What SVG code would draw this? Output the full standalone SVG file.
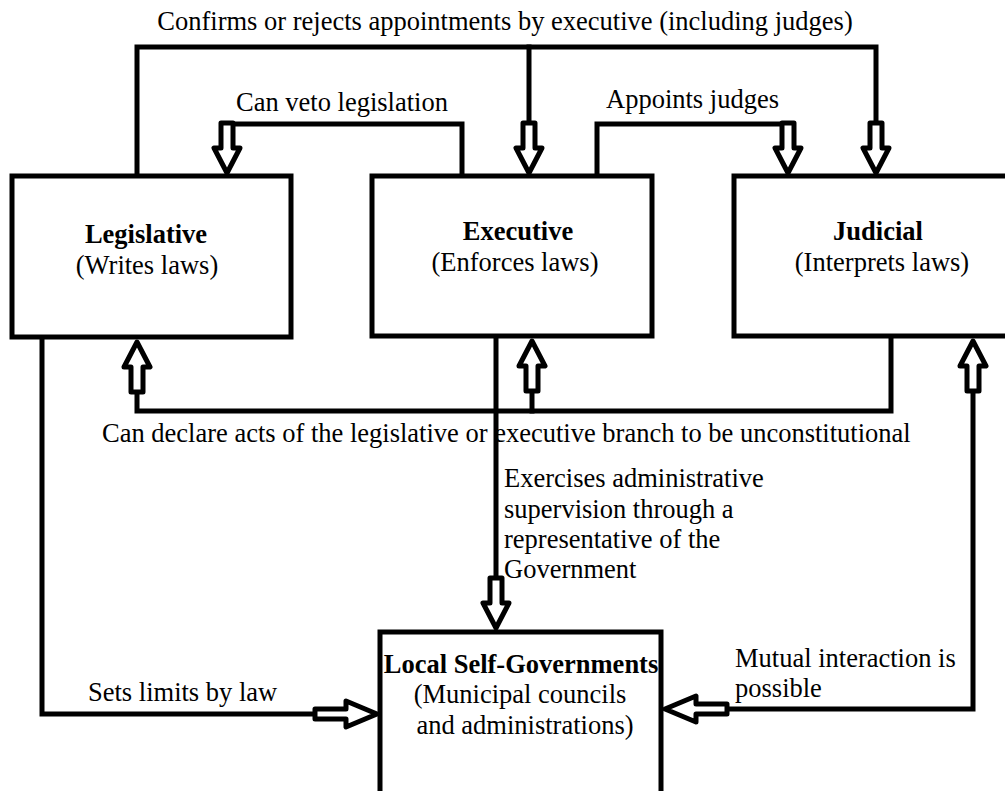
<svg xmlns="http://www.w3.org/2000/svg" width="1005" height="791" viewBox="0 0 1005 791">
<style>
.box{fill:#fff;stroke:#000;stroke-width:5}
.ln{fill:none;stroke:#000;stroke-width:5;stroke-linejoin:miter;stroke-linecap:square}
.ar{fill:#fff;stroke:#000;stroke-width:5;stroke-linejoin:round}
text{font-family:"Liberation Serif","Times New Roman",serif;font-size:26.5px;fill:#000}
.b{font-weight:bold}
.c{text-anchor:middle}
</style>
<defs>
<path id="av" d="M-6,-50 H6 V-25 H13 L0,0 L-13,-25 H-6 Z"/>
<path id="ah" d="M-62,-5 H-31 V-13 L0,0 L-31,13 V5 H-62 Z"/>
</defs>
<g id="legislative">
<rect class="box" x="12" y="176" width="279" height="161"/>
<text class="c b" x="146" y="243">Legislative</text>
<text class="c" x="147" y="274">(Writes laws)</text>
</g>
<g id="executive">
<rect class="box" x="372" y="176" width="280" height="160"/>
<text class="c b" x="518" y="240">Executive</text>
<text class="c" x="515" y="271">(Enforces laws)</text>
</g>
<g id="judicial">
<rect class="box" x="734" y="176" width="300" height="160"/>
<text class="c b" x="878" y="240">Judicial</text>
<text class="c" x="882" y="271">(Interprets laws)</text>
</g>
<g id="local">
<rect class="box" x="380" y="632" width="281" height="200"/>
<text class="c b" x="521" y="673">Local Self-Governments</text>
<text class="c" x="520" y="703">(Municipal councils</text>
<text class="c" x="525" y="734">and administrations)</text>
</g>
<g id="connectors">
<polyline class="ln" points="137,174 137,47 876,47 876,124"/>
<line class="ln" x1="529" y1="47" x2="529" y2="124"/>
<use class="ar" href="#av" transform="translate(529,173)"/>
<use class="ar" href="#av" transform="translate(876,173)"/>
<polyline class="ln" points="462,174 462,124 222,124"/>
<use class="ar" href="#av" transform="translate(227,173)"/>
<polyline class="ln" points="597,174 597,124 793,124"/>
<use class="ar" href="#av" transform="translate(788,173)"/>
<polyline class="ln" points="891,339 891,411 137,411 137,393"/>
<line class="ln" x1="532" y1="411" x2="532" y2="393"/>
<use class="ar" href="#av" transform="translate(137,342) rotate(180)"/>
<use class="ar" href="#av" transform="translate(532,341) rotate(180)"/>
<polyline class="ln" points="973,393 973,709 729,709"/>
<use class="ar" href="#av" transform="translate(973,341) rotate(180)"/>
<use class="ar" href="#ah" transform="translate(665,709) rotate(180)"/>
<line class="ln" x1="496" y1="339" x2="496" y2="577"/>
<use class="ar" href="#av" transform="translate(496,628)"/>
<polyline class="ln" points="42,339 42,714 314,714"/>
<use class="ar" href="#ah" transform="translate(377,714)"/>
</g>
<g id="labels">
<text class="c" x="505" y="30">Confirms or rejects appointments by executive (including judges)</text>
<text x="236" y="111">Can veto legislation</text>
<text x="606" y="108">Appoints judges</text>
<text x="102" y="442">Can declare acts of the legislative or executive branch to be unconstitutional</text>
<text x="504" y="487">Exercises administrative</text>
<text x="504" y="518">supervision through a</text>
<text x="504" y="548">representative of the</text>
<text x="504" y="578">Government</text>
<text x="88" y="701">Sets limits by law</text>
<text x="735" y="667">Mutual interaction is</text>
<text x="735" y="697">possible</text>
</g>
</svg>
